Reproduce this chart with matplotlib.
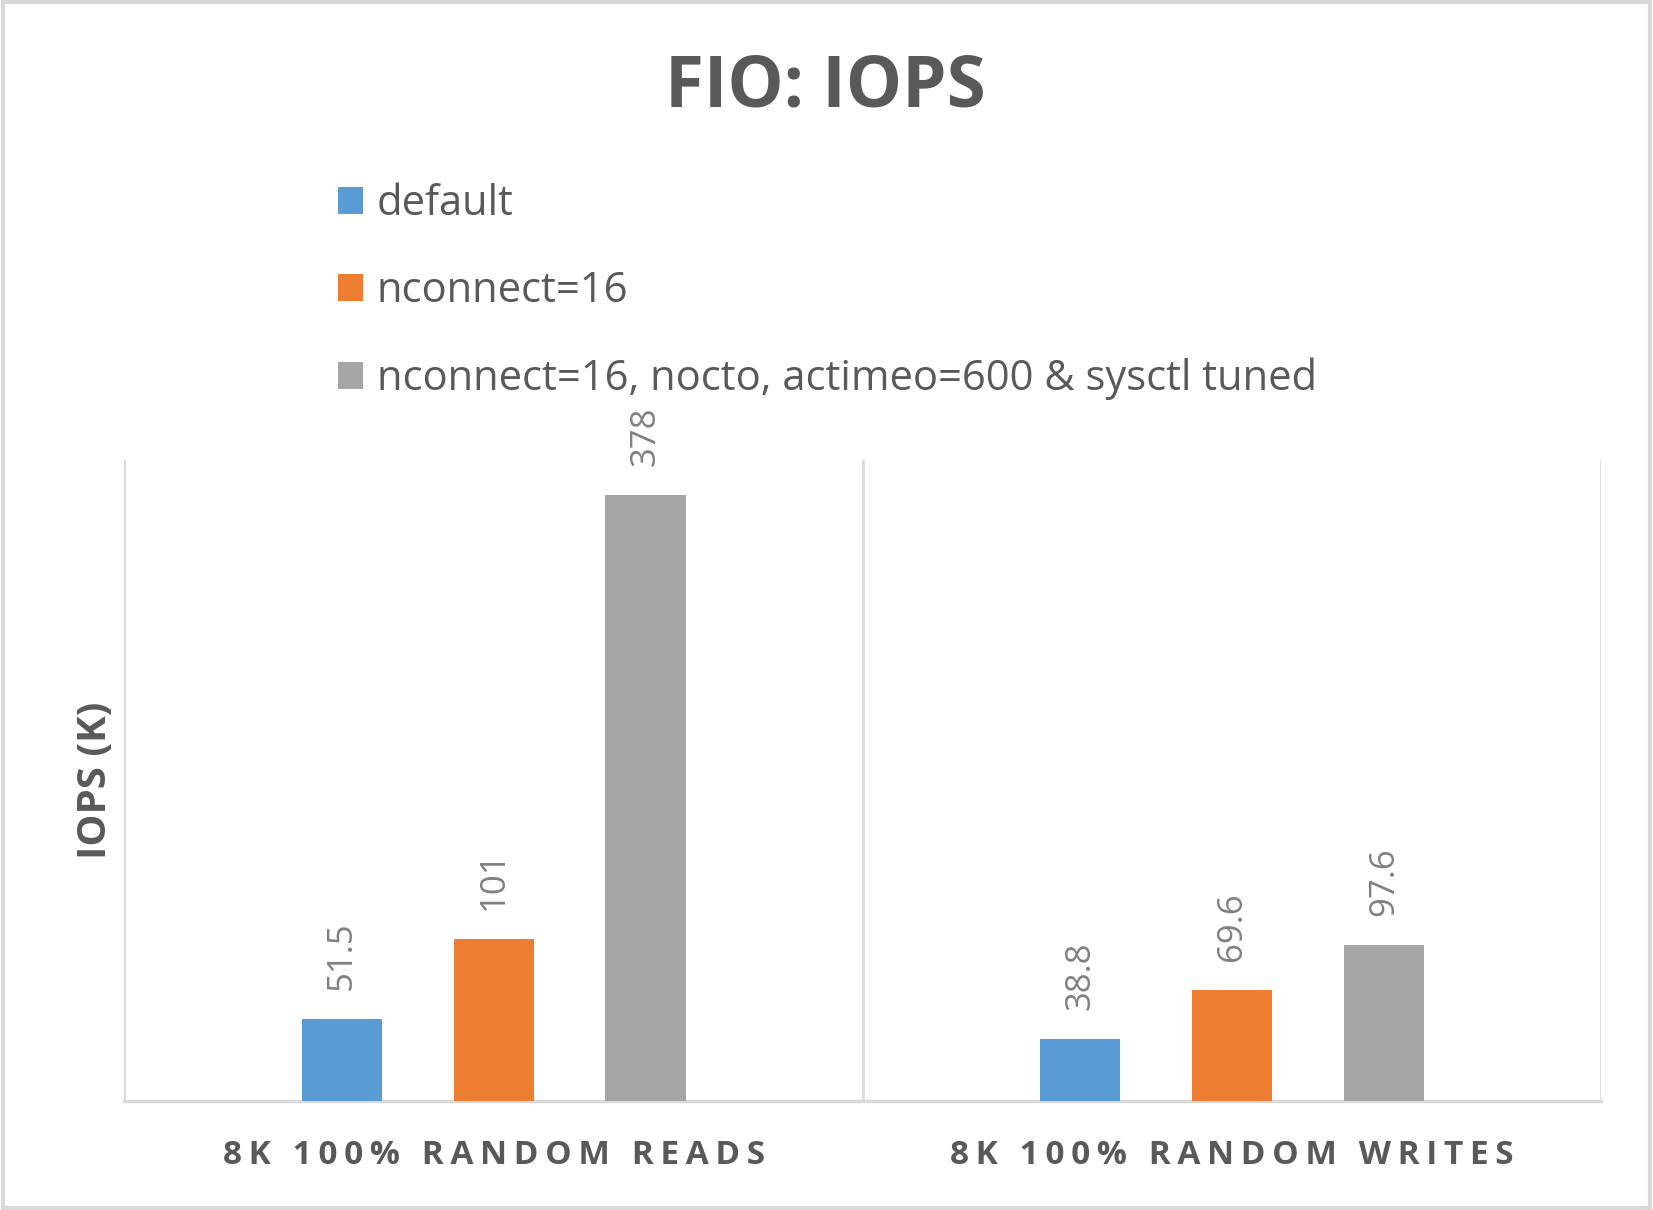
import numpy as np
import matplotlib.pyplot as plt
from matplotlib.patches import Rectangle

plt.rcParams['font.family'] = ['Open Sans', 'DejaVu Sans']

# Dados do gráfico
categorias = ['8K 100% RANDOM READS', '8K 100% RANDOM WRITES']
series = ['default', 'nconnect=16', 'nconnect=16, nocto, actimeo=600 & sysctl tuned']
iops_default = [51.5, 38.8]
iops_nconnect = [101, 69.6]
iops_tuned = [378, 97.6]
rotulos_default = ['51.5', '38.8']
rotulos_nconnect = ['101', '69.6']
rotulos_tuned = ['378', '97.6']

cores = ['#5B9BD5', '#ED7D31', '#A5A5A5']
cor_texto = '#595959'
cor_linha = '#D9D9D9'


def espacar(texto, sep='\u2009'):
    # imita o espaçamento entre letras do Excel
    return sep.join(texto)


fig = plt.figure(figsize=(16.53, 12.10), dpi=100)
ax = fig.add_axes([0.0753, 0.0897, 0.8935, 0.5305])

x = np.arange(len(categorias))
largura = 0.1085
passo = 0.2056

valores = [iops_default, iops_nconnect, iops_tuned]
rotulos = [rotulos_default, rotulos_nconnect, rotulos_tuned]
for i, (vals, rots) in enumerate(zip(valores, rotulos)):
    pos = x + (i - 1) * passo
    ax.bar(pos, vals, width=largura, color=cores[i], label=series[i], zorder=3)
    for px, v, r in zip(pos, vals, rots):
        ax.annotate(r, (px, v), xytext=(0, 21), textcoords='offset points',
                    rotation=90, ha='center', va='bottom', fontsize=25,
                    color='#808080')

ax.set_xlim(-0.5, len(categorias) - 0.5)
ax.set_ylim(0, 400)
ax.set_yticks([])
ax.set_xticks(x)
ax.set_xticklabels([espacar(c) for c in categorias], fontsize=24,
                   fontweight='bold', color=cor_texto)
ax.tick_params(axis='x', length=0, pad=27)

# linhas verticais entre categorias
for b in np.arange(-0.5, len(categorias), 1.0):
    ax.axvline(b, color=cor_linha, linewidth=2, zorder=1)

for s in ['top', 'right', 'left']:
    ax.spines[s].set_visible(False)
ax.spines['bottom'].set_color(cor_linha)
ax.spines['bottom'].set_linewidth(2.5)

ax.set_ylabel('IOPS (K)', fontsize=29, fontweight='bold',
              color=cor_texto, labelpad=7)

fig.text(0.499, 0.928, 'FIO: IOPS', ha='center', va='center',
         fontsize=51, fontweight='bold', color=cor_texto)

handles, labels = ax.get_legend_handles_labels()
leg = fig.legend(handles, labels, loc='upper left', bbox_to_anchor=(0.1815, 0.880),
                 frameon=False, fontsize=30, labelcolor=cor_texto,
                 handlelength=0.62, handleheight=0.62, handletextpad=0.32,
                 labelspacing=1.09)

fig.patches.append(Rectangle((0.002, 0.002), 0.996, 0.996, transform=fig.transFigure,
                             fill=False, edgecolor=cor_linha, linewidth=3))

plt.savefig('out.png', dpi=100)
